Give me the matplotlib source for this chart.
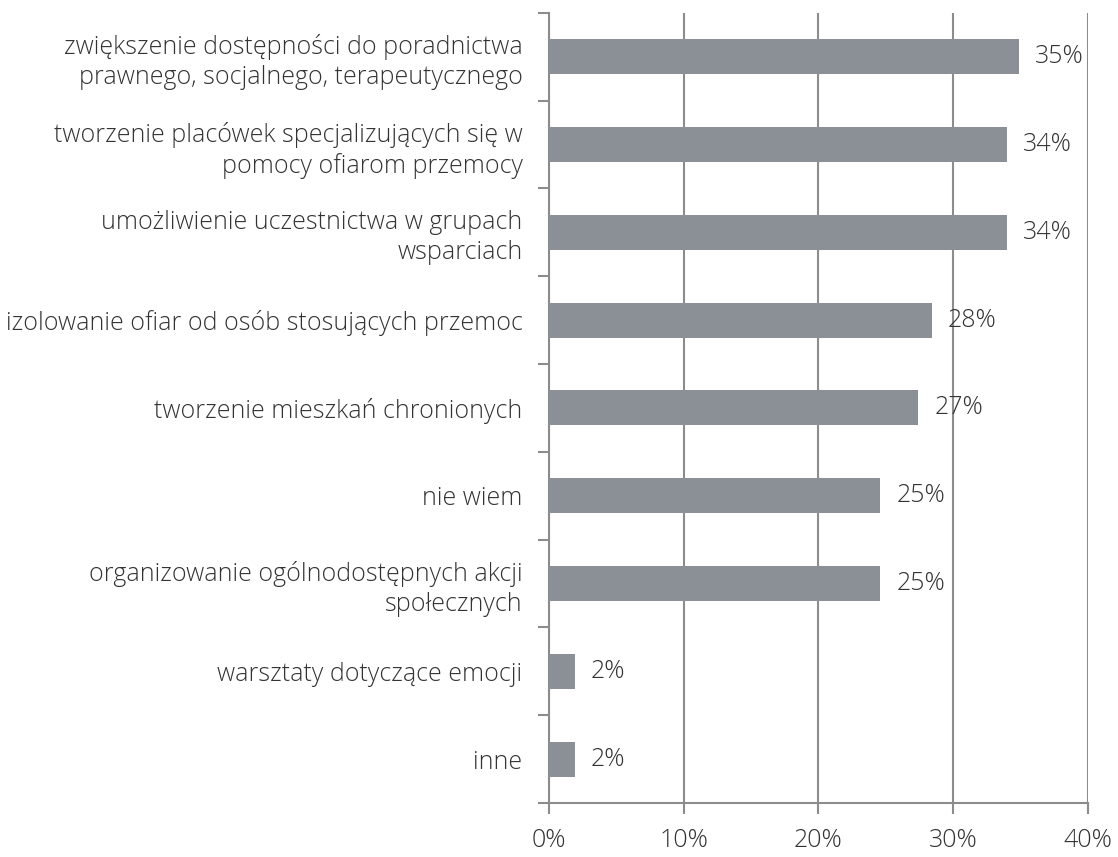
import numpy as np
import matplotlib.pyplot as plt

categories = [
    "zwiększenie dostępności do poradnictwa\nprawnego, socjalnego, terapeutycznego",
    "tworzenie placówek specjalizujących się w\npomocy ofiarom przemocy",
    "umożliwienie uczestnictwa w grupach\nwsparciach",
    "izolowanie ofiar od osób stosujących przemoc",
    "tworzenie mieszkań chronionych",
    "nie wiem",
    "organizowanie ogólnodostępnych akcji\nspołecznych",
    "warsztaty dotyczące emocji",
    "inne",
]
values = [34.9, 34.0, 34.0, 28.4, 27.4, 24.6, 24.6, 1.9, 1.9]
value_labels = ["35%", "34%", "34%", "28%", "27%", "25%", "25%", "2%", "2%"]
x_ticks = [0, 10, 20, 30, 40]

plt.rcParams['font.family'] = ['Open Sans', 'DejaVu Sans']
text_color = '#333333'
grid_color = '#8c8c8c'
bar_color = '#8a9096'
fs = 18

fig = plt.figure(figsize=(11.18, 8.57), dpi=100)
ax = fig.add_axes([0.491, 0.063, 0.482, 0.922])

n = len(categories)
ypos = np.arange(n)
ax.barh(ypos, values, height=0.4, color=bar_color, zorder=3)

for y, v, lab in zip(ypos, values, value_labels):
    ax.text(v + 1.2, y, lab, va='center', ha='left', fontsize=fs,
            color=text_color, fontweight='light', zorder=4)

ax.set_xlim(0, 40)
ax.set_ylim(n - 0.5, -0.5)
ax.set_xticks(x_ticks)
ax.set_xticklabels([f"{t}%" for t in x_ticks], fontsize=fs, color=text_color, fontweight='light')
ax.set_yticks(ypos)
ax.set_yticklabels(categories, fontsize=fs, color=text_color, fontweight='light', linespacing=1.25)
ax.set_yticks(np.arange(n + 1) - 0.5, minor=True)

ax.tick_params(axis='y', which='major', length=0, pad=19)
ax.tick_params(axis='y', which='minor', length=8, width=1.5, color=grid_color, direction='out')
ax.tick_params(axis='x', which='major', length=8, width=1.5, color=grid_color, direction='out', pad=10)

ax.xaxis.grid(True, color=grid_color, linewidth=1.5, zorder=0)
ax.set_axisbelow(True)
for side in ['top', 'right']:
    ax.spines[side].set_visible(False)
for side in ['left', 'bottom']:
    ax.spines[side].set_color(grid_color)
    ax.spines[side].set_linewidth(1.5)

fig.savefig('out.png', dpi=100)
